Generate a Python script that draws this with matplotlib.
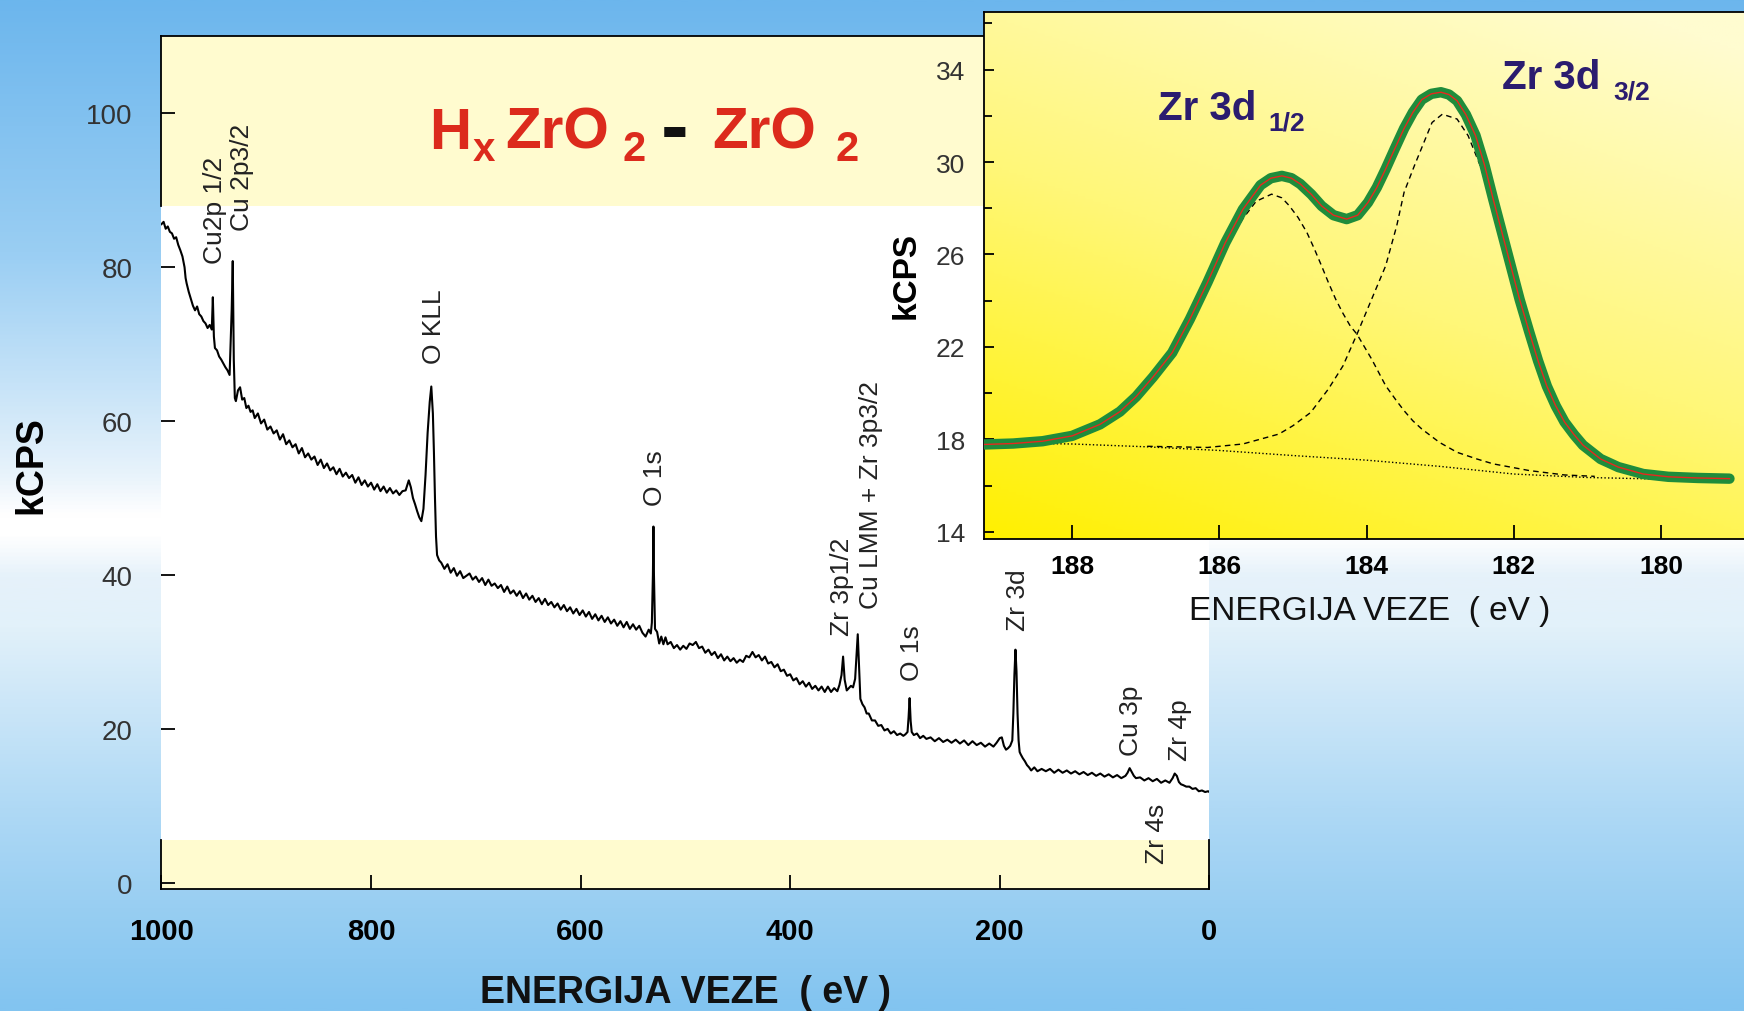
import numpy as np
import matplotlib
matplotlib.use("Agg")
import matplotlib.pyplot as plt
from matplotlib.colors import LinearSegmentedColormap

plt.rcParams["font.family"] = ["Liberation Sans", "DejaVu Sans"]

# --- survey spectrum (binding energy eV, kCPS) ---
survey_ev = [
    1000, 998, 996, 994, 992, 990, 988, 986, 984, 982,
    980, 978, 977, 976, 974, 972, 970, 968, 966, 964,
    962, 960, 958, 956, 954, 952, 951, 950, 949, 947,
    945, 943, 941, 939, 937, 935, 933, 932, 931, 930,
    929, 927, 925, 923, 921, 919, 917, 915, 913, 911,
    908, 905, 902, 899, 896, 893, 890, 887, 884, 881,
    878, 875, 872, 869, 866, 863, 860, 857, 854, 851,
    848, 845, 842, 839, 836, 833, 830, 827, 824, 821,
    818, 815, 812, 809, 806, 803, 800, 797, 794, 791,
    788, 785, 782, 779, 776, 773, 770, 767, 764, 762,
    760, 758, 756, 754, 752, 750, 748, 746, 744, 742.5,
    741, 740, 739, 738, 737, 735,
    733, 730, 727, 724, 721, 718, 715, 712, 709, 706,
    703, 700, 697, 694, 691, 688, 685, 682, 679, 676,
    673, 670, 667, 664, 661, 658, 655, 652, 649, 646,
    643, 640, 637, 634, 631, 628, 625, 622, 619, 616,
    613, 610, 607, 604, 601, 598, 595, 592, 589, 586,
    583, 580, 577, 574, 571, 568, 565, 562, 559, 556,
    553, 550, 547, 544, 541, 538, 535, 533,
    532, 531, 530.5, 530, 529, 527, 525, 523, 521, 519,
    517, 514, 511, 508, 505, 502, 499, 496, 493, 490,
    487, 484, 481, 478, 475, 472, 469, 466, 463, 460,
    457, 454, 451, 448, 445, 442, 439, 436, 433, 430,
    427, 424, 421, 418, 415, 412, 409, 406, 403, 400,
    397, 394, 391, 388, 385, 382, 379, 376, 373, 370,
    367, 364, 361, 358, 355, 353, 351, 349.5, 348, 346,
    344, 342, 340, 338, 336.5, 335.5, 334.5, 333, 331, 329,
    327, 325, 322, 319, 316, 313, 310, 307, 304, 301,
    298, 295, 292, 290,
    288, 287, 286, 285, 284, 282, 279, 276, 273, 270,
    266, 262, 258, 254, 250, 246, 242, 238, 234, 230,
    226, 222, 218, 214, 210, 206, 203, 200, 198, 196,
    194, 192, 190, 188, 187, 186, 185, 184, 183, 182,
    181, 180, 178, 176, 174, 172, 170, 167, 164, 160,
    156, 152, 148, 144, 140, 136, 132, 128, 124, 120,
    116, 112, 108, 104, 100, 96, 92, 88, 84, 80,
    78, 76, 74, 72, 70, 66, 62, 58, 54, 50,
    46, 42, 38, 35, 33, 31, 29, 27, 25, 22,
    19, 16, 13, 10, 7, 4, 1, 0,
]
survey_kcps = [
    85.6, 85.9, 85.0, 85.3, 84.6, 84.4, 83.7, 83.9, 82.9, 82.2,
    81.4, 80.0, 78.6, 77.9, 76.8, 75.9, 75.0, 74.4, 74.9, 73.9,
    73.6, 73.0, 72.7, 72.1, 72.5, 71.9, 76.1, 71.0, 69.5, 69.2,
    68.4, 68.0, 67.5, 67.0, 66.6, 66.0, 74.5, 80.8, 68.0, 63.0,
    62.6, 64.0, 64.4, 62.8, 63.0, 61.7, 62.0, 61.2, 61.4, 60.4,
    61.0, 59.7, 60.2, 58.9, 59.3, 58.4, 58.8, 57.6, 58.3, 57.0,
    57.5, 56.6, 57.0, 55.8, 56.5, 55.3, 55.8, 55.0, 55.4, 54.3,
    55.0, 53.9, 54.5, 53.6, 54.0, 53.1, 53.8, 52.8, 53.3, 52.6,
    53.0, 52.0, 52.7, 51.7, 52.3, 51.5, 52.0, 51.1, 51.8, 50.9,
    51.5, 50.7, 51.3, 50.6, 51.0, 50.4, 50.9, 51.0, 52.3, 51.4,
    50.0, 49.2, 48.3, 47.5, 47.0, 48.6, 53.0, 58.5, 62.5, 64.5,
    61.0, 56.0, 50.0, 45.0, 42.6, 41.9,
    41.6, 40.8, 41.4, 40.3, 40.9, 39.9, 40.5, 39.6, 39.9, 40.2,
    39.4, 39.8, 39.1, 39.6, 38.7, 39.4, 38.6, 38.9, 38.3, 38.7,
    37.8, 38.5, 37.6, 38.0, 37.3, 37.9, 37.0, 37.6, 36.8, 37.3,
    36.5, 37.0, 36.2, 36.9, 36.1, 36.5, 35.8, 36.3, 35.5, 36.1,
    35.3, 35.8, 35.0, 35.6, 34.8, 35.4, 34.6, 35.2, 34.3, 34.9,
    34.1, 34.7, 33.9, 34.5, 33.7, 34.2, 33.4, 34.0, 33.2, 33.9,
    33.0, 33.6, 32.9, 33.4, 32.5, 32.0, 32.9, 32.4,
    33.8, 40.0, 46.3, 40.0, 33.0, 32.6, 31.1, 32.0, 31.0, 31.9,
    31.0, 31.3, 30.5, 30.9, 30.3, 30.8, 30.4, 31.1, 30.9, 31.3,
    30.5, 30.7, 29.9, 30.3, 29.6, 30.0, 29.2, 29.7, 28.9, 29.4,
    28.8, 29.2, 28.6, 29.0, 28.7, 29.5, 29.3, 30.0, 29.3, 29.6,
    28.9, 29.4, 28.5, 28.7, 28.0, 28.4, 27.5, 27.7, 26.9, 27.1,
    26.3, 26.6, 25.8, 26.2, 25.5, 26.0, 25.2, 25.6, 25.0, 25.5,
    24.8, 25.5, 24.8, 25.3, 24.9, 25.7, 27.0, 29.4, 26.4, 25.0,
    25.3, 25.6, 25.4, 26.5, 30.0, 32.3, 29.0, 23.9, 23.2, 22.8,
    22.0, 22.0, 21.1, 21.1, 20.4, 20.5, 19.8, 20.0, 19.4, 19.7,
    19.2, 19.4, 19.1, 19.3,
    19.6, 21.5, 24.0, 21.0, 19.6, 19.2, 19.4, 18.8, 19.1, 18.7,
    18.9, 18.4, 18.8, 18.3, 18.6, 18.2, 18.6, 18.1, 18.5, 17.9,
    18.4, 17.9, 18.2, 17.7, 18.1, 17.7, 18.2, 18.8, 18.9, 17.8,
    17.3, 17.5, 17.8, 18.5, 22.0, 27.0, 30.3, 27.5, 22.0, 18.5,
    17.0, 16.7, 16.2, 15.8, 15.3, 15.0, 14.6, 15.0, 14.5, 14.8,
    14.5, 14.8, 14.3, 14.7, 14.3, 14.6, 14.2, 14.5, 14.1, 14.4,
    14.0, 14.3, 13.9, 14.2, 13.8, 14.1, 13.7, 14.0, 13.6, 13.9,
    14.3, 14.9, 14.4, 13.9, 13.6, 13.7, 13.3, 13.6, 13.2, 13.5,
    13.0, 13.3, 13.0, 13.6, 14.2, 13.9, 13.1, 12.8, 12.7, 12.5,
    12.5, 12.2, 12.3, 11.9, 12.0, 11.8, 11.9, 11.8,
]

# peak labels: text, energy, kCPS where the label starts
peak_names = ["Cu2p 1/2", "Cu 2p3/2", "O KLL", "O 1s", "Zr 3p1/2",
              "Cu LMM + Zr 3p3/2", "O 1s", "Zr 3d", "Cu 3p", "Zr 4p", "Zr 4s"]
peak_ev = [949, 923.6, 740, 528.7, 350.3, 322.7, 283.4, 182.6, 74.3, 27.6, 49.9]
peak_kcps = [80.5, 84.8, 67.6, 49.1, 32.2, 35.7, 26.4, 32.8, 16.6, 15.9, 2.6]

# --- Zr 3d detail (inset) ---
env_ev = [189.19, 188.8, 188.4, 188.0, 187.62, 187.35, 187.13, 186.9, 186.64, 186.4,
          186.16, 185.92, 185.68, 185.44, 185.3, 185.15, 185.02, 184.9, 184.75, 184.61,
          184.45, 184.27, 184.12, 183.98, 183.86, 183.74, 183.62, 183.49, 183.37, 183.25,
          183.12, 182.99, 182.88, 182.77, 182.65, 182.52, 182.4, 182.28, 182.16, 182.04,
          181.92, 181.79, 181.67, 181.55, 181.43, 181.31, 181.18, 181.06, 180.82, 180.58,
          180.24, 179.9, 179.5, 179.07]
env_kcps = [17.78, 17.82, 17.92, 18.15, 18.65, 19.2, 19.85, 20.7, 21.75, 23.2,
            24.8, 26.5, 27.95, 29.0, 29.3, 29.4, 29.3, 29.05, 28.6, 28.1,
            27.7, 27.53, 27.7, 28.25, 28.9, 29.7, 30.55, 31.45, 32.15, 32.7,
            32.95, 33.02, 32.92, 32.65, 32.05, 31.15, 29.9, 28.4, 26.95, 25.5,
            24.05, 22.65, 21.4, 20.3, 19.45, 18.75, 18.2, 17.75, 17.15, 16.8,
            16.5, 16.38, 16.33, 16.3]

d52_ev = [189.19, 188.4, 188.0, 187.62, 187.35, 187.13, 186.9, 186.64, 186.4, 186.16,
          185.92, 185.68, 185.5, 185.29, 185.15, 185.05, 184.93, 184.81, 184.71, 184.61,
          184.52, 184.42, 184.32, 184.22, 184.13, 183.93, 183.74, 183.6, 183.49, 183.37,
          183.25, 183.01, 182.77, 182.5, 182.28, 181.79, 181.31, 180.9]
d52_kcps = [17.78, 17.9, 18.1, 18.6, 19.15, 19.8, 20.6, 21.6, 23.05, 24.6,
            26.25, 27.55, 28.3, 28.61, 28.45, 28.11, 27.6, 26.95, 26.25, 25.5,
            24.8, 24.07, 23.45, 22.9, 22.55, 21.47, 20.32, 19.7, 19.24, 18.8,
            18.45, 17.87, 17.44, 17.15, 16.94, 16.65, 16.46, 16.4]

d32_ev = [186.98, 186.16, 185.68, 185.19, 185.0, 184.76, 184.52, 184.32, 184.13, 183.93,
          183.74, 183.59, 183.49, 183.35, 183.11, 182.97, 182.77, 182.62, 182.45, 182.28,
          182.04, 181.79, 181.55, 181.31, 181.06, 180.82, 180.58, 180.24, 179.6, 179.1]
d32_kcps = [17.7, 17.65, 17.8, 18.23, 18.59, 19.16, 20.17, 21.18, 22.55, 24.07,
            25.51, 27.24, 28.69, 29.84, 31.71, 32.07, 31.86, 31.14, 29.8, 28.04,
            25.22, 22.34, 20.1, 18.59, 17.58, 17.08, 16.72, 16.46, 16.33, 16.3]

base_ev = [189.19, 188.0, 187.0, 186.0, 185.0, 184.0, 183.0, 182.0, 181.0, 180.0, 179.07]
base_kcps = [17.85, 17.8, 17.68, 17.52, 17.3, 17.1, 16.83, 16.5, 16.35, 16.28, 16.25]

assert len(survey_ev) == len(survey_kcps)

fig = plt.figure(figsize=(17.44, 10.12), dpi=100)

# sky-blue backdrop
bg = fig.add_axes([0, 0, 1, 1], zorder=-10)
sky = LinearSegmentedColormap.from_list("sky", [
    (0.00, "#6cb6ed"), (0.25, "#9acef3"), (0.38, "#c6e3f8"), (0.47, "#e8f3fb"),
    (0.51, "#ffffff"), (0.53, "#ffffff"), (0.57, "#e6f2fa"), (0.62, "#e2f1fa"),
    (0.70, "#cbe6f8"), (0.80, "#afd9f5"), (0.90, "#98cef2"), (1.00, "#82c4f0")])
bg.imshow(np.linspace(0, 1, 512).reshape(-1, 1), cmap=sky, aspect="auto",
          extent=(0, 1, 0, 1))
bg.axis("off")

# main survey panel
ax = fig.add_axes([0.0926, 0.1206, 0.6008, 0.8432])
ax.set_facecolor("white")
band = "#fffbcf"
ax.axhspan(88, 111, color=band, lw=0, zorder=0)
ax.axhspan(-1, 5.5, color=band, lw=0, zorder=0)
ax.plot(survey_ev, survey_kcps, color="black", lw=1.5, zorder=3)
ax.set_xlim(1000, 0)
ax.set_ylim(-0.8, 110.1)
ax.set_xticks(range(0, 1001, 200))
ax.set_yticks(range(0, 101, 20))
ax.tick_params(axis="x", direction="in", length=10, width=1.3, labelsize=21, pad=20)
ax.tick_params(axis="y", direction="in", length=10, width=1.3, labelsize=20, pad=21,
               labelcolor="#333333")
for lbl in ax.get_xticklabels():
    lbl.set_fontweight("bold")
ax.spines["left"].set_visible(False)
ax.spines["right"].set_visible(False)
ax.spines["top"].set_linewidth(1.3)
ax.spines["bottom"].set_linewidth(1.3)
top_frac = (88 + 0.8) / 110.9
low_frac = (5.5 + 0.8) / 110.9
for xe in (1000, 0):
    ax.axvline(xe, ymin=top_frac, ymax=1, color="black", lw=1.3, clip_on=False)
    ax.axvline(xe, ymin=0, ymax=low_frac, color="black", lw=1.3, clip_on=False)

for name, xe, ye in zip(peak_names, peak_ev, peak_kcps):
    ax.text(xe, ye, name, rotation=90, ha="center", va="bottom", fontsize=19,
            color="#222222", zorder=4)

# title  HxZrO2 - ZrO2, set piece by piece so the subscripts sit low
red = "#dc2a1c"
title_parts = [("H", 0.2460, 0.8528, 42, red), ("x", 0.2712, 0.8409, 29, red),
               ("ZrO", 0.2896, 0.8528, 42, red), ("2", 0.3567, 0.8409, 30, red),
               ("-", 0.3790, 0.8478, 60, "#111111"), ("ZrO", 0.4083, 0.8528, 42, red),
               ("2", 0.4788, 0.8409, 30, red)]
for txt, fx, fy, fs, col in title_parts:
    fig.text(fx, fy, txt, ha="left", va="baseline", fontsize=fs,
             fontweight="bold", color=col)

fig.text(0.0178, 0.5405, "kCPS", rotation=90, ha="center", va="center",
         fontsize=27, fontweight="bold", color="black")
fig.text(0.3928, 0.0188, "ENERGIJA VEZE  ( eV )", ha="center", va="center",
         fontsize=27, fontweight="bold", color="#111111")

# Zr 3d inset
ins = fig.add_axes([0.5645, 0.4662, 0.4356, 0.5207], zorder=5)
gx, gy = np.meshgrid(np.linspace(0, 1, 300), np.linspace(1, 0, 200))
shade = np.clip(0.7 * gy + 0.35 * gx, 0, 1)
lemon = LinearSegmentedColormap.from_list("lemon", ["#fff000", "#fff778", "#fffcd0"])
ins.imshow(shade, cmap=lemon, aspect="auto", extent=(189.19, 178.87, 13.68, 36.48),
           zorder=0)
ins.plot(base_ev, base_kcps, color="black", lw=1.0, ls=(0, (1, 1.6)), zorder=2)
ins.plot(d52_ev, d52_kcps, color="black", lw=1.0, ls=(0, (4, 3)), zorder=2)
ins.plot(d32_ev, d32_kcps, color="black", lw=1.0, ls=(0, (4, 3)), zorder=2)
ins.plot(env_ev, env_kcps, color="#1f8c3b", lw=7.5, solid_capstyle="round",
         solid_joinstyle="round", zorder=3)
ins.plot(env_ev, env_kcps, color="#e8281e", lw=1.0, zorder=4)
ins.set_xlim(189.19, 178.87)
ins.set_ylim(13.68, 36.48)
ins.set_xticks([188, 186, 184, 182, 180])
ins.set_yticks([14, 18, 22, 26, 30, 34])
ins.set_yticks([16, 20, 24, 28, 32, 36], minor=True)
ins.tick_params(axis="x", direction="in", length=10, width=1.3, labelsize=19, pad=11)
ins.tick_params(axis="y", which="major", direction="in", length=7, width=1.3,
                labelsize=19, pad=14, labelcolor="#333333")
ins.tick_params(axis="y", which="minor", direction="in", length=6, width=1.3)
for lbl in ins.get_xticklabels():
    lbl.set_fontweight("bold")
ins.spines["right"].set_visible(False)
for side in ("left", "top", "bottom"):
    ins.spines[side].set_linewidth(1.3)

navy = "#2b1c6f"
for main_txt, sub_txt, mx, my, sx, sy in [("Zr 3d", "1/2", 0.6638, 0.8814, 0.7271, 0.8709),
                                           ("Zr 3d", "3/2", 0.8612, 0.9121, 0.9249, 0.9017)]:
    fig.text(mx, my, main_txt, ha="left", va="baseline", fontsize=29,
             fontweight="bold", color=navy, zorder=6)
    fig.text(sx, sy, sub_txt, ha="left", va="baseline", fontsize=19,
             fontweight="bold", color=navy, zorder=6)
fig.text(0.5198, 0.7273, "kCPS", rotation=90, ha="center", va="center",
         fontsize=24, fontweight="bold", color="black")
fig.text(0.7856, 0.3953, "ENERGIJA VEZE  ( eV )", ha="center", va="center",
         fontsize=24, color="#111111")

fig.savefig("out.png", dpi=100)
